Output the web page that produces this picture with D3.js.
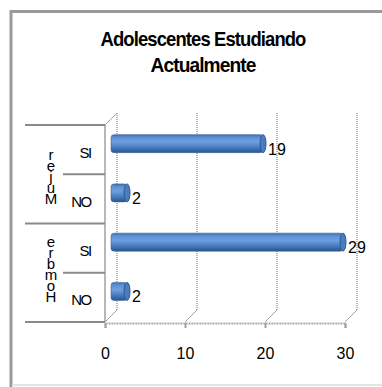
<!DOCTYPE html>
<html>
<head>
<meta charset="utf-8">
<script src="https://cdn.jsdelivr.net/npm/d3@7"></script>
<style>
  body { margin: 0; background: #fff; }
  svg { display: block; }
</style>
</head>
<body>
<div id="chart"></div>
<script>
// data
const groups = ["Mujer", "Hombre"];
const answers = ["SI", "NO"];
const values = [19, 2, 29, 2];   // Mujer SI, Mujer NO, Hombre SI, Hombre NO
const ticks = [0, 10, 20, 30];
const titleLines = ["Adolescentes Estudiando", "Actualmente"];

const W = 382, H = 387;
const depth = 12;

const rows = [];
groups.forEach((g, gi) => answers.forEach((a, ai) => {
  rows.push({ group: g, answer: a, key: g + "-" + a, value: values[gi * answers.length + ai] });
}));

const svg = d3.select("#chart").append("svg")
  .attr("width", W).attr("height", H);

const defs = svg.append("defs");
const grad = defs.append("linearGradient")
  .attr("id", "bar").attr("x1", 0).attr("y1", 0).attr("x2", 0).attr("y2", 1);
[[0, "#3d6cab"], [0.15, "#5d8fd3"], [0.4, "#6fa0e2"], [0.75, "#4477bb"], [1, "#2b5388"]]
  .forEach(([o, c]) => grad.append("stop").attr("offset", o).attr("stop-color", c));

// outer border
svg.append("line").attr("x1", 11).attr("x2", 11).attr("y1", 10).attr("y2", H)
  .attr("stroke", "#9a9a9a").attr("stroke-width", 3);
svg.append("line").attr("x1", 10).attr("x2", W).attr("y1", 11.5).attr("y2", 11.5)
  .attr("stroke", "#9a9a9a").attr("stroke-width", 3);
svg.append("line").attr("x1", 12).attr("x2", W).attr("y1", 385).attr("y2", 385)
  .attr("stroke", "#e4e4e4").attr("stroke-width", 2);

// title
svg.selectAll("text.title").data(titleLines).enter().append("text")
  .attr("class", "title")
  .attr("x", 203).attr("y", (d, i) => 46 + i * 26)
  .attr("text-anchor", "middle")
  .attr("textLength", (d, i) => i === 0 ? 205 : 105)
  .attr("lengthAdjust", "spacingAndGlyphs")
  .style("font-family", "Liberation Sans, Arial, sans-serif")
  .style("font-weight", "bold").style("font-size", "21px")
  .attr("letter-spacing", -1)
  .text(d => d);

const x = d3.scaleLinear().domain([0, 30]).range([105, 345]);
const y = d3.scaleBand().domain(rows.map(d => d.key)).range([125, 322]);

const grey = "#a0a0a0";

// back wall gridlines (dotted) and floor diagonals
ticks.forEach(t => {
  svg.append("line")
    .attr("x1", x(t) + depth).attr("x2", x(t) + depth)
    .attr("y1", 113).attr("y2", 322 - depth)
    .attr("stroke", grey).attr("stroke-width", 1.5).attr("stroke-dasharray", "1,1");
  svg.append("line")
    .attr("x1", x(t)).attr("y1", 322)
    .attr("x2", x(t) + depth).attr("y2", 322 - depth)
    .attr("stroke", grey).attr("stroke-width", 1);
});

// side wall edges
svg.append("line").attr("x1", x(0)).attr("x2", x(0)).attr("y1", 125).attr("y2", 322)
  .attr("stroke", grey).attr("stroke-width", 1.5);
svg.append("line").attr("x1", x(0)).attr("y1", 125).attr("x2", x(0) + depth).attr("y2", 113)
  .attr("stroke", grey).attr("stroke-width", 1);

// front value axis
const xAxis = svg.append("g").attr("transform", "translate(0,323)")
  .call(d3.axisBottom(x).tickValues(ticks).tickSize(5).tickPadding(20));
xAxis.select(".domain").attr("stroke", grey).attr("stroke-width", 2).attr("stroke-dasharray", "1,0.6");
xAxis.selectAll(".tick line").attr("stroke", grey).attr("stroke-width", 2);
xAxis.selectAll(".tick text")
  .style("font-family", "Liberation Sans, Arial, sans-serif")
  .style("font-size", "16px").attr("fill", "#000");

// category separator lines
const boundaries = [];
rows.forEach((r, i) => {
  const top = y(r.key);
  const outer = i % answers.length === 0;
  boundaries.push({ y: top, x1: outer ? 25 : 63 });
});
boundaries.push({ y: 322, x1: 25 });
svg.selectAll("line.sep").data(boundaries).enter().append("line")
  .attr("class", "sep")
  .attr("x1", d => d.x1).attr("x2", x(0))
  .attr("y1", d => d.y).attr("y2", d => d.y)
  .attr("stroke", "#8a8a8a").attr("stroke-width", 2);

// answer labels
svg.selectAll("text.ans").data(rows).enter().append("text")
  .attr("class", "ans")
  .attr("x", d => d.answer === "SI" ? 85 : 81)
  .attr("y", d => y(d.key) + y.bandwidth() / 2 + 8)
  .attr("text-anchor", "middle")
  .attr("letter-spacing", -1.5)
  .style("font-family", "Liberation Sans, Arial, sans-serif")
  .style("font-size", "15px")
  .text(d => d.answer);

// group labels: upright letters stacked, first letter at the bottom
groups.forEach((g, gi) => {
  const bottom = y(g + "-" + answers[answers.length - 1]) + y.bandwidth();
  const chars = g.split("");
  const base = bottom - 20;
  const pitch = 11;
  svg.selectAll("text.grp" + gi).data(chars).enter().append("text")
    .attr("class", "grp" + gi)
    .attr("x", 51)
    .attr("y", (c, i) => base - i * pitch)
    .attr("text-anchor", "middle")
    .style("font-family", "Liberation Sans, Arial, sans-serif")
    .style("font-size", "15px")
    .text(c => c);
});

// bars (cylinders at mid depth)
const off = depth / 2;
const bh = 18;
const bars = svg.selectAll("g.bar").data(rows).enter().append("g").attr("class", "bar");
bars.append("rect")
  .attr("x", x(0) + off)
  .attr("y", d => y(d.key) + y.bandwidth() / 2 - off - bh / 2)
  .attr("width", d => x(d.value) - x(0))
  .attr("height", bh)
  .attr("rx", 3)
  .attr("fill", "url(#bar)")
  .attr("stroke", "#3a669f").attr("stroke-width", 0.6);
bars.append("ellipse")
  .attr("cx", d => x(d.value) + off)
  .attr("cy", d => y(d.key) + y.bandwidth() / 2 - off)
  .attr("rx", 3).attr("ry", bh / 2)
  .attr("fill", "#4a7cc0")
  .attr("stroke", "#2e5a94").attr("stroke-width", 1);

// value labels
svg.selectAll("text.val").data(rows).enter().append("text")
  .attr("class", "val")
  .attr("x", d => x(d.value) + off + 5)
  .attr("y", d => y(d.key) + y.bandwidth() / 2 - off + 11)
  .style("font-family", "Liberation Sans, Arial, sans-serif")
  .style("font-size", "16px")
  .text(d => d.value);
</script>
</body>
</html>
